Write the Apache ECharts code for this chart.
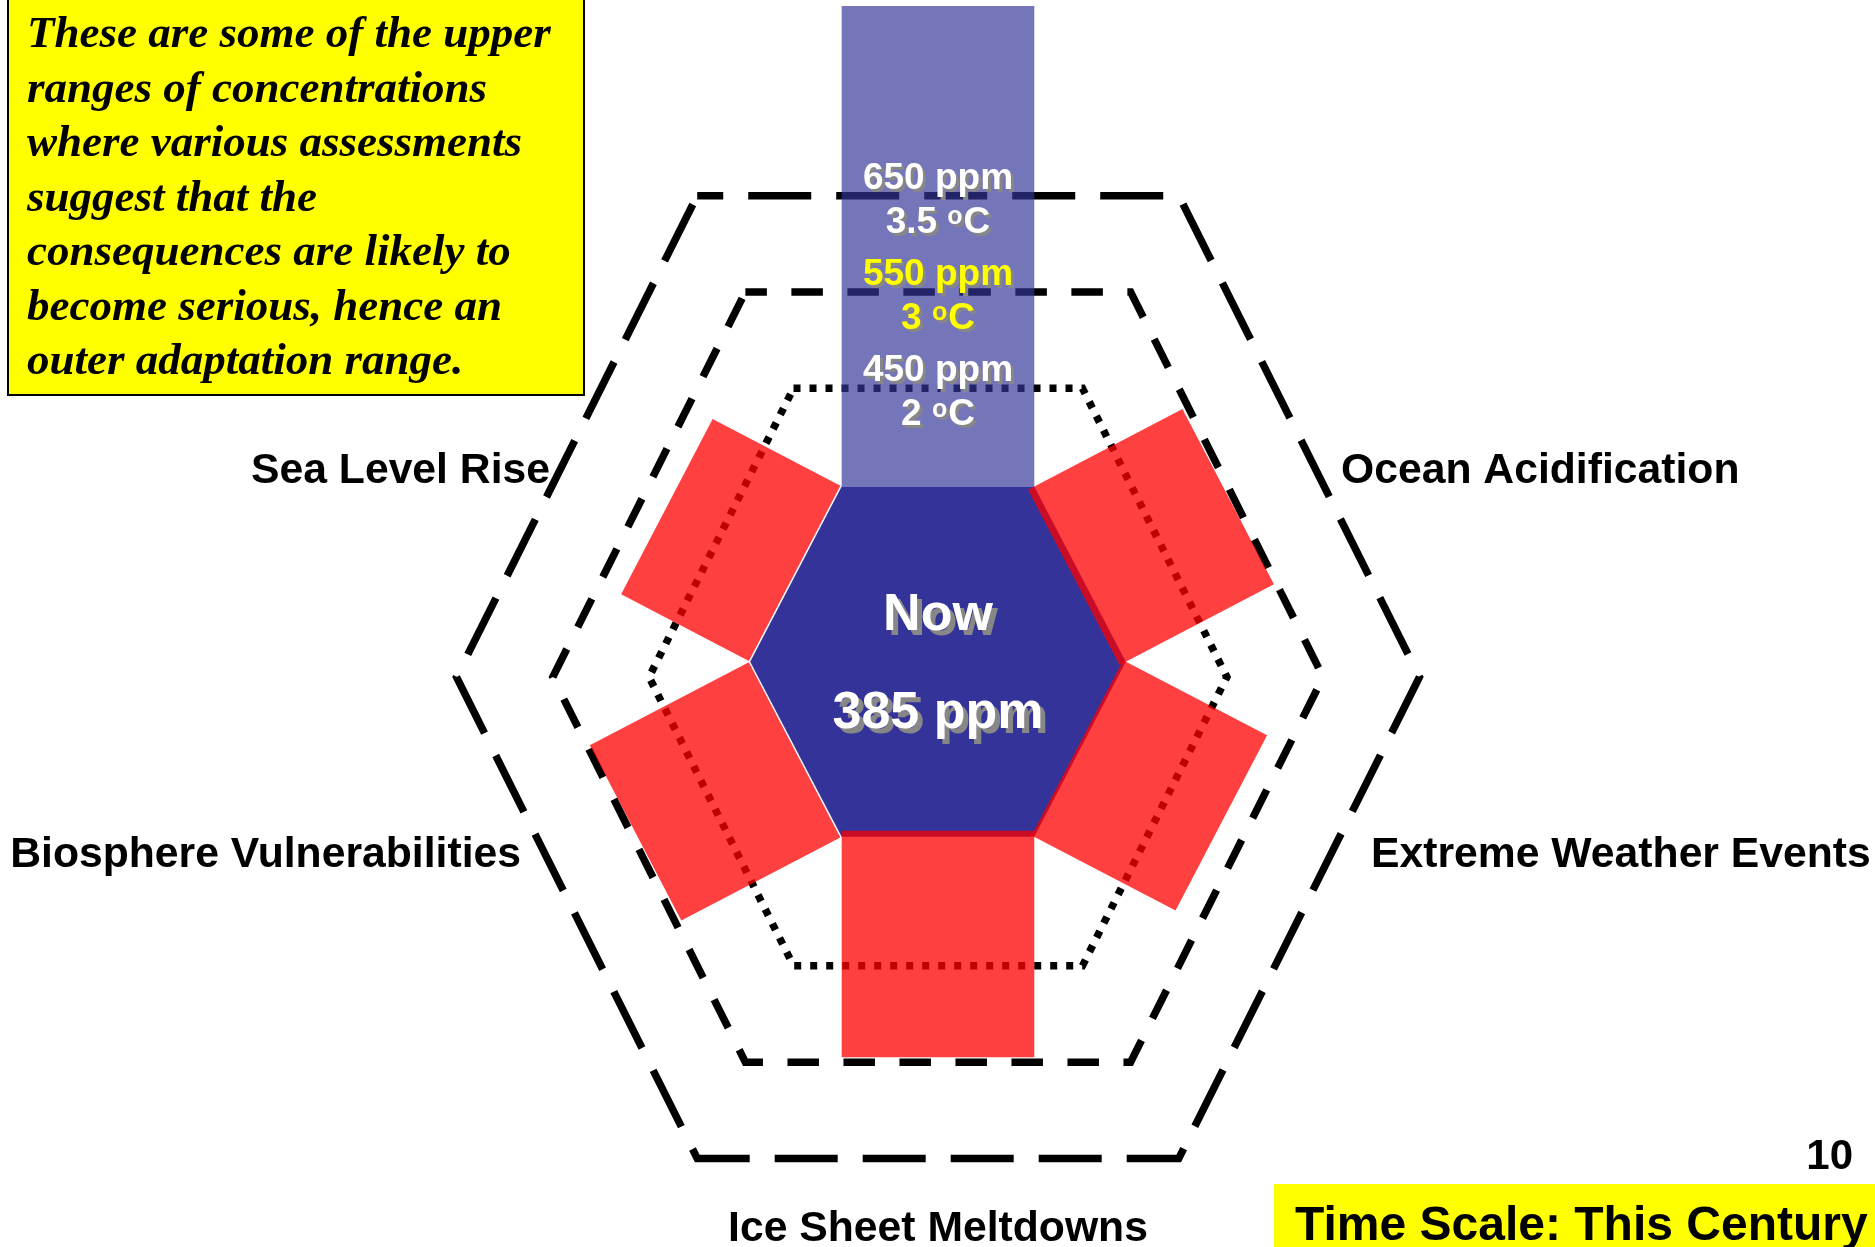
<!DOCTYPE html>
<html>
<head>
<meta charset="utf-8">
<title>Concentration thresholds and impacts</title>
<script src="https://cdn.jsdelivr.net/npm/echarts@6/dist/echarts.min.js"></script>
<style>
  html, body { margin: 0; padding: 0; background: #ffffff; }
  #chart { width: 1875px; height: 1247px; }
</style>
</head>
<body>
<div id="chart"></div>
<script>
// ---- data -------------------------------------------------------------
// CO2 concentration thresholds (nested hexagons) and the warming each implies
const thresholdPpm = [450, 550, 650];
const thresholdTempC = ['2', '3', '3.5'];

// Present-day concentration shown in the hub
const nowLabel = 'Now';
const nowPpm = 385;

// Impact areas, clockwise from the upper right, and the concentration
// each one's band reaches out to
const impactNames = ['Ocean Acidification', 'Extreme Weather Events', 'Ice Sheet Meltdowns',
                     'Biosphere Vulnerabilities', 'Sea Level Rise'];
const impactPpm = [545, 520, 545, 545, 520];

// Side note and footer texts
const noteLines = ['These are some of the upper', 'ranges of concentrations', 'where various assessments',
                   'suggest that the', 'consequences are likely to', 'become serious, hence an',
                   'outer adaptation range.'];
const pageNumber = '10';
const timeScaleText = 'Time Scale: This Century';

// ---- layout & style ---------------------------------------------------
const ORIGIN_PPM = 150;                 // concentration at the centre of the radial scale
const X_RANGE = [-974, 973];
const Y_RANGE = [-592, 697];
const HUB = { half: 100, reach: 195, apothem: 182, rise: 16 };   // hub hexagon, in axis units
const SANS = '"Liberation Sans", Arial, Helvetica, sans-serif';
const SERIF = '"Liberation Serif", "Times New Roman", serif';
const RING_DASH = [[7, 9], [31.5, 24.5], [63, 25]];
const RING_DASH_OFFSET = [0, 10, 37];
const THRESHOLD_COLOR = ['#ffffff', '#ffff00', '#ffffff'];
const BAR_OVERLAP_PX = [7, 3, 6, -1.5, -1.5];   // how far each band tucks under the hub edge
const IMPACT_LABEL_AT = [[1341, 471, 'left'], [1371, 855, 'left'], [938, 1229, 'center'],
                         [521, 855, 'right'], [550, 471, 'right']];

// hexagon with flat top/bottom: top-left, top-right, right, bottom-right, bottom-left, left
function hexPoints(reach, apothem, half, cy) {
  return [[-half, cy + apothem], [half, cy + apothem], [reach, cy],
          [half, cy - apothem], [-half, cy - apothem], [-reach, cy]];
}
function hubPoints() {
  return hexPoints(HUB.reach, HUB.apothem, HUB.half, HUB.rise);
}
function outwardNormal(a, b, c) {
  let nx = b[1] - a[1], ny = -(b[0] - a[0]);
  const len = Math.hypot(nx, ny);
  nx /= len; ny /= len;
  const mx = (a[0] + b[0]) / 2 - c[0], my = (a[1] + b[1]) / 2 - c[1];
  if (nx * mx + ny * my < 0) { nx = -nx; ny = -ny; }
  return [nx, ny];
}
// white lettering with a flat grey drop shadow
function shadowed(x, y, style, off) {
  const sh = Object.assign({}, style, { fill: '#878787' });
  return [
    { type: 'text', x: x + off, y: y + off, style: sh },
    { type: 'text', x: x, y: y, style: style }
  ];
}

const option = {
  animation: false,
  backgroundColor: '#ffffff',
  grid: { left: 0, right: 0, top: 6, bottom: 0 },
  xAxis: { type: 'value', min: X_RANGE[0], max: X_RANGE[1], show: false },
  yAxis: { type: 'value', min: Y_RANGE[0], max: Y_RANGE[1], show: false },
  series: [
    // threshold hexagons
    {
      type: 'custom', coordinateSystem: 'cartesian2d', z: 1, silent: true,
      data: thresholdPpm.map((p, i) => [i, p]),
      renderItem(params, api) {
        const i = api.value(0);
        const s = api.value(1) - ORIGIN_PPM;
        const pts = hexPoints(s, s, s / 2, 0).map(p => api.coord(p));
        return {
          type: 'polygon', shape: { points: pts },
          style: { fill: 'transparent', stroke: '#000000', lineWidth: 7.5,
                   lineDash: RING_DASH[i], lineDashOffset: RING_DASH_OFFSET[i],
                   lineJoin: 'miter', lineCap: 'butt' }
        };
      }
    },
    // rising concentration column above the hub
    {
      type: 'custom', coordinateSystem: 'cartesian2d', z: 2, silent: true,
      data: [[0, Y_RANGE[1]]],
      renderItem(params, api) {
        const top = api.value(1);
        const hub = hubPoints();
        const pts = [[hub[0][0], top], [hub[1][0], top], hub[1], hub[0]].map(p => api.coord(p));
        return { type: 'polygon', shape: { points: pts }, style: { fill: 'rgba(51,51,153,0.68)' } };
      }
    },
    // hub
    {
      type: 'custom', coordinateSystem: 'cartesian2d', z: 3, silent: true,
      data: [[0, nowPpm]],
      renderItem(params, api) {
        const pts = hubPoints().map(p => api.coord(p));
        return { type: 'polygon', shape: { points: pts }, style: { fill: '#333399' } };
      }
    },
    // impact bands
    {
      type: 'custom', coordinateSystem: 'cartesian2d', z: 4, silent: true,
      data: impactPpm.map((p, i) => [i, p]),
      renderItem(params, api) {
        const i = api.value(0);
        const k = i + 1;
        const hub = hubPoints();
        const a = hub[k], b = hub[(k + 1) % 6];
        const n = outwardNormal(a, b, [0, HUB.rise]);
        const s = api.value(1) - ORIGIN_PPM;
        const ring = hexPoints(s, s, s / 2, 0);
        const ra = ring[k], rb = ring[(k + 1) % 6];
        const nr = outwardNormal(ra, rb, [0, 0]);
        const reach = ra[0] * nr[0] + ra[1] * nr[1];
        const m = [(a[0] + b[0]) / 2, (a[1] + b[1]) / 2];
        const t = (reach - (m[0] * nr[0] + m[1] * nr[1])) / (n[0] * nr[0] + n[1] * nr[1]);
        const unit = api.size([1, 1])[0];
        const ov = BAR_OVERLAP_PX[i] / unit;
        const pts = [
          [a[0] - n[0] * ov, a[1] - n[1] * ov],
          [b[0] - n[0] * ov, b[1] - n[1] * ov],
          [b[0] + n[0] * t, b[1] + n[1] * t],
          [a[0] + n[0] * t, a[1] + n[1] * t]
        ].map(p => api.coord(p));
        return { type: 'polygon', shape: { points: pts }, style: { fill: 'rgba(255,0,0,0.75)' } };
      }
    },
    // threshold labels inside the column
    {
      type: 'custom', coordinateSystem: 'cartesian2d', z: 5, silent: true,
      data: thresholdPpm.map((p, i) => [i, p]),
      renderItem(params, api) {
        const i = api.value(0);
        const ppm = api.value(1);
        const c = api.coord([0, ppm - ORIGIN_PPM]);
        const col = THRESHOLD_COLOR[i];
        const ppmStyle = { text: ppm + ' ppm', fill: col, font: 'bold 37px ' + SANS,
                           align: 'center', verticalAlign: 'middle',
                           textAlign: 'center', textVerticalAlign: 'middle' };
        const tempStyle = {
          text: '{n|' + thresholdTempC[i] + ' }{s|o}{n|C}', fill: col,
          align: 'center', verticalAlign: 'middle', textAlign: 'center', textVerticalAlign: 'middle',
          rich: {
            n: { fontSize: 37, fontWeight: 'bold', fontFamily: SANS, lineHeight: 40 },
            s: { fontSize: 25, fontWeight: 'bold', fontFamily: SANS, lineHeight: 28, padding: [0, 1, 11, 0] }
          }
        };
        return {
          type: 'group',
          children: [].concat(
            shadowed(c[0], c[1] - 17, ppmStyle, 3),
            shadowed(c[0], c[1] + 27, tempStyle, 3)
          )
        };
      }
    },
    // hub label
    {
      type: 'custom', coordinateSystem: 'cartesian2d', z: 6, silent: true,
      data: [[0, nowPpm]],
      renderItem(params, api) {
        const c = api.coord([0, HUB.rise]);
        const st = { fill: '#ffffff', font: 'bold 52px ' + SANS, align: 'center', verticalAlign: 'middle',
                     textAlign: 'center', textVerticalAlign: 'middle' };
        return {
          type: 'group',
          children: [].concat(
            shadowed(c[0], c[1] - 46, Object.assign({ text: nowLabel }, st), 5),
            shadowed(c[0], c[1] + 52, Object.assign({ text: api.value(1) + ' ppm' }, st), 5)
          )
        };
      }
    }
  ],
  graphic: {
    elements: [].concat(
      // side note box
      [{ type: 'rect', z: 100, shape: { x: 8, y: -4, width: 576, height: 399 },
         style: { fill: '#ffff00', stroke: '#000000', lineWidth: 2 } }],
      noteLines.map((line, i) => ({
        type: 'text', z: 101, x: 27, y: 35.5 + 54.5 * i,
        style: { text: line, font: 'italic bold 45px ' + SERIF, fill: '#000000',
                 align: 'left', verticalAlign: 'middle', textAlign: 'left', textVerticalAlign: 'middle' }
      })),
      // impact labels
      impactNames.map((name, i) => ({
        type: 'text', z: 101, x: IMPACT_LABEL_AT[i][0], y: IMPACT_LABEL_AT[i][1],
        style: { text: name, font: 'bold 42.7px ' + SANS, fill: '#000000',
                 align: IMPACT_LABEL_AT[i][2], verticalAlign: 'middle',
                 textAlign: IMPACT_LABEL_AT[i][2], textVerticalAlign: 'middle' }
      })),
      // footer
      [
        { type: 'text', z: 101, x: 1853, y: 1157,
          style: { text: pageNumber, font: 'bold 42px ' + SANS, fill: '#000000',
                   align: 'right', verticalAlign: 'middle', textAlign: 'right', textVerticalAlign: 'middle' } },
        { type: 'rect', z: 100, shape: { x: 1274, y: 1184, width: 610, height: 70 },
          style: { fill: '#ffff00' } },
        { type: 'text', z: 101, x: 1295, y: 1227,
          style: { text: timeScaleText, font: 'bold 48px ' + SANS, fill: '#000000',
                   align: 'left', verticalAlign: 'middle', textAlign: 'left', textVerticalAlign: 'middle' } }
      ]
    )
  }
};

const chart = echarts.init(document.getElementById('chart'));
chart.setOption(option);
</script>
</body>
</html>
